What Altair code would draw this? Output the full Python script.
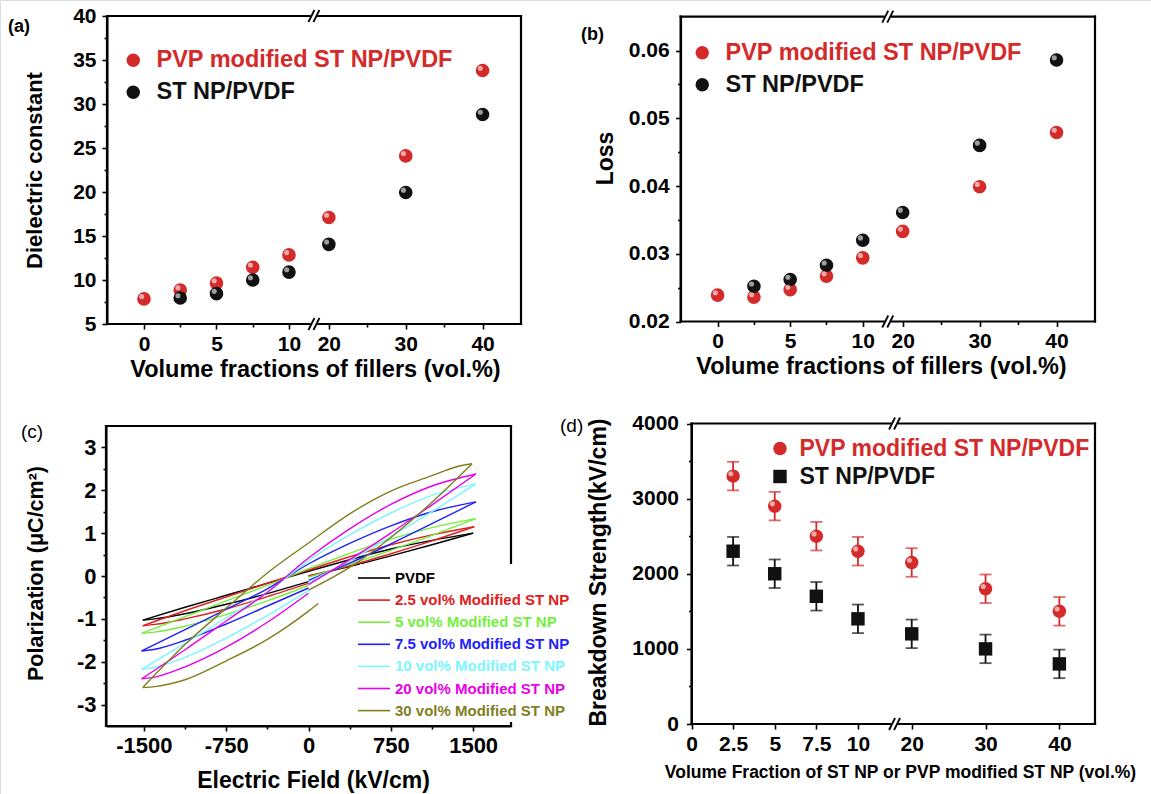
import altair as alt
import pandas as pd

FONT = "Liberation Sans"
W, H = 1151, 794
RED = "#d42a2a"
BLK = "#111111"

# ---------------- panels (a) and (b) ----------------
ab_series = ["PVP modified ST NP/PVDF", "ST NP/PVDF"]
ab_colors = [RED, BLK]
vol_red = [0, 2.5, 5, 7.5, 10, 20, 30, 40]
vol_black = [2.5, 5, 7.5, 10, 20, 30, 40]
eps_red = [7.85, 8.85, 9.65, 11.45, 12.85, 17.1, 24.1, 33.8]
eps_black = [7.95, 8.45, 10.0, 10.9, 14.05, 19.95, 28.8]
loss_red = [0.0239, 0.0236, 0.0247, 0.0267, 0.0294, 0.0333, 0.0399, 0.0479]
loss_black = [0.0252, 0.0262, 0.0283, 0.0320, 0.0361, 0.0460, 0.0586]
ab_x_ticks = [0, 5, 10, 20, 30, 40]
ab_x_minor = [2.5, 7.5, 25, 35]
a_y_ticks = [5, 10, 15, 20, 25, 30, 35, 40]
a_y_minor = [7.5, 12.5, 17.5, 22.5, 27.5, 32.5, 37.5]
b_y_ticks = [0.02, 0.03, 0.04, 0.05, 0.06]
b_y_minor = [0.025, 0.035, 0.045, 0.055]

# ---------------- panel (c): P-E loops ----------------
c_series = ["PVDF", "2.5 vol%  Modified ST NP", "5 vol% Modified ST NP",
            "7.5 vol% Modified ST NP", "10 vol%  Modified ST NP",
            "20 vol% Modified ST NP", "30 vol%  Modified ST NP"]
c_colors = ["#000000", "#e02020", "#74f03c", "#2020ff", "#7cf6ff", "#e800e8", "#7f7f1f"]
E_pvdf = [0, 375, 750, 1125, 1500, 1125, 750, 375, 0, -375, -750, -1125, -1510, -1400, -1125, -750, -375, 0]
P_pvdf = [0.0, 0.22, 0.47, 0.73, 1.0, 0.83, 0.63, 0.38, 0.11, -0.17, -0.45, -0.73, -1.03, -1.0, -0.88, -0.66, -0.41, -0.13]
E_25 = [0, 375, 750, 1125, 1510, 1125, 750, 375, 0, -375, -750, -1125, -1510, -1400, -1125, -750, -375, 0]
P_25 = [0.0, 0.24, 0.52, 0.82, 1.15, 0.96, 0.73, 0.45, 0.14, -0.17, -0.49, -0.81, -1.16, -1.13, -1.0, -0.77, -0.48, -0.17]
E_5 = [0, 375, 750, 1125, 1525, 1125, 750, 375, 0, -375, -750, -1125, -1520, -1400, -1125, -750, -375, 0]
P_5 = [-0.03, 0.27, 0.6, 0.95, 1.34, 1.13, 0.86, 0.53, 0.17, -0.22, -0.58, -0.95, -1.34, -1.31, -1.17, -0.9, -0.58, -0.22]
E_75 = [0, 375, 750, 1125, 1525, 1125, 750, 375, 0, -375, -750, -1125, -1520, -1400, -1125, -750, -375, 0]
P_75 = [-0.1, 0.3, 0.75, 1.22, 1.73, 1.5, 1.17, 0.76, 0.28, -0.3, -0.78, -1.25, -1.75, -1.71, -1.5, -1.12, -0.7, -0.28]
E_10 = [0, 375, 750, 1125, 1525, 1125, 750, 375, 0, -375, -750, -1125, -1520, -1400, -1125, -750, -375, 0]
P_10 = [-0.15, 0.36, 0.92, 1.5, 2.15, 1.88, 1.47, 0.96, 0.36, -0.38, -0.98, -1.57, -2.18, -2.13, -1.9, -1.45, -0.92, -0.34]
E_20 = [0, 375, 750, 1125, 1525, 1125, 750, 375, 0, -375, -750, -1125, -1520, -1400, -1125, -750, -375, 0]
P_20 = [-0.2, 0.38, 1.0, 1.66, 2.38, 2.1, 1.67, 1.1, 0.42, -0.38, -1.05, -1.72, -2.4, -2.36, -2.12, -1.66, -1.08, -0.4]
E_30 = [0, 375, 750, 1125, 1490, 1350, 1125, 750, 375, 0, -375, -750, -1125, -1510, -1400, -1125, -750, -375, 0, 90]
P_30 = [-0.33, 0.2, 0.9, 1.72, 2.62, 2.55, 2.34, 1.98, 1.45, 0.77, 0.07, -0.75, -1.6, -2.6, -2.58, -2.42, -1.98, -1.48, -0.82, -0.64]
c_E = [E_pvdf, E_25, E_5, E_75, E_10, E_20, E_30]
c_P = [P_pvdf, P_25, P_5, P_75, P_10, P_20, P_30]
c_x_ticks = [-1500, -750, 0, 750, 1500]
c_x_minor = [-1125, -375, 375, 1125]
c_y_ticks = [-3, -2, -1, 0, 1, 2, 3]
c_y_minor = [-2.5, -1.5, -0.5, 0.5, 1.5, 2.5]

# ---------------- panel (d): breakdown strength ----------------
d_series = ["PVP modified ST NP/PVDF", "ST NP/PVDF"]
d_vol = [2.5, 5, 7.5, 10, 20, 30, 40]
d_red = [3300, 2900, 2500, 2300, 2150, 1800, 1500]
d_red_err = [190, 190, 190, 190, 190, 190, 190]
d_black = [2300, 2000, 1700, 1400, 1200, 1000, 800]
d_black_err = [190, 190, 190, 190, 190, 190, 190]
d_x_ticks = [0, 2.5, 5, 7.5, 10, 20, 30, 40]
d_y_ticks = [0, 1000, 2000, 3000, 4000]
d_y_minor = [500, 1500, 2500, 3500]

# broken-axis layout (position units)
AB_S20, AB_K, AB_BRK = 12.75, 0.53, 11.72
D_S20, D_K, D_BRK = 13.23, 0.4435, 12.2


def brk(v, s20, k):
    return v if v <= 10 else s20 + (v - 20) * k


def brk_label(s20, k, fmt):
    return (f"datum.value <= 10.5 ? format(datum.value, '{fmt}') : "
            f"format(round(20 + (datum.value - {s20}) / {k}), 'd')")


def color_expr(names, colors):
    n = ",".join("'" + s + "'" for s in names)
    c = ",".join("'" + s + "'" for s in colors)
    return f"[{c}][indexof([{n}], datum.label)]"


def axis(orient, pixel, **kw):
    off = {"left": -pixel, "top": -pixel, "right": pixel - W, "bottom": pixel - H}[orient]
    base = dict(orient=orient, offset=off, grid=False, domainColor="black", domainWidth=2,
                tickColor="black", tickWidth=1.6, tickSize=5, labelFont=FONT,
                labelFontWeight="bold", labelColor="black", labelFontSize=21, labelPadding=3,
                labelOverlap=False, labelFlush=False, zindex=0, titleFont=FONT,
                titleFontWeight="bold", titleColor="black", titleFontSize=22,
                titleBaseline="middle", title="")
    base.update(kw)
    return alt.Axis(**base)


def axis_layers(df, xf, yf, xs, ys, box, xmain, ymain, xminor=None, yminor=None):
    left, top, right, bottom = box
    b = alt.Chart(df).mark_point(opacity=0)
    lays = [b.encode(x=alt.X(xf, scale=xs, axis=xmain), y=alt.Y(yf, scale=ys, axis=ymain))]
    xm = axis("bottom", bottom, values=xminor, labels=False, domain=False, tickSize=3) if xminor else None
    ym = axis("left", left, values=yminor, labels=False, domain=False, tickSize=3) if yminor else None
    lays.append(b.encode(x=alt.X(xf, scale=xs, axis=xm), y=alt.Y(yf, scale=ys, axis=ym)))
    return lays


_dummy = pd.DataFrame({"k": [0]})


def slash(x1, y1, x2, y2, width=1.8):
    return alt.Chart(_dummy).mark_rule(color="black", strokeWidth=width).encode(
        x=alt.value(x1), x2=alt.value(x2), y=alt.value(y1), y2=alt.value(y2))


def bar(x1, y1, x2, y2, t=1.1):
    """Axis-aligned frame edge as a thin filled rectangle (pixels)."""
    return alt.Chart(_dummy).mark_rect(color="black", strokeWidth=0).encode(
        x=alt.value(min(x1, x2) - t), x2=alt.value(max(x1, x2) + t),
        y=alt.value(min(y1, y2) - t), y2=alt.value(max(y1, y2) + t))


def frame_px(box, xdom=None, bpos=None, gap=4.2):
    """Plot frame (chart furniture) in pixels, split at the axis break with '//' marks."""
    left, top, right, bottom = box
    lays = [bar(left, top, left, bottom), bar(right, top, right, bottom)]
    if bpos is None:
        lays += [bar(left, top, right, top), bar(left, bottom, right, bottom)]
    else:
        bx = left + (bpos - xdom[0]) / (xdom[1] - xdom[0]) * (right - left)
        for yy in (top, bottom):
            lays += [bar(left, yy, bx - gap, yy), bar(bx + gap, yy, right, yy)]
            for dx in (-5.5, -0.5):
                lays.append(slash(bx + dx, yy + 6, bx + dx + 6, yy - 6))
    return lays


def two_legend(x, y, fs, size, offset, rowpad, names):
    return alt.Legend(orient="none", legendX=x, legendY=y, title=None, labelFont=FONT,
                      labelFontSize=fs, labelFontWeight="bold",
                      labelColor=alt.ExprRef(color_expr(names, ab_colors)),
                      symbolSize=size, symbolStrokeWidth=0, labelOffset=offset,
                      rowPadding=rowpad, padding=0, labelLimit=600)


AB_XDOM = [-2.55, 26.0]
frames = []


def sphere_panel(vals_red, vals_black, ys, box, yaxis_main, y_minor, legend, title_cx):
    left, top, right, bottom = box
    df = pd.DataFrame({
        "series": [ab_series[0]] * len(vol_red) + [ab_series[1]] * len(vol_black),
        "vol": vol_red + vol_black,
        "val": vals_red + vals_black})
    df["pos"] = [brk(v, AB_S20, AB_K) for v in df["vol"]]
    xs = alt.Scale(domain=AB_XDOM, range=[left, right], nice=False, zero=False)
    xmain = axis("bottom", bottom, values=[brk(v, AB_S20, AB_K) for v in ab_x_ticks],
                 labelExpr=brk_label(AB_S20, AB_K, "~g"), domain=False,
                 title="Volume fractions of fillers (vol.%)", titleFontSize=23.5,
                 titleX=title_cx, titleY=45, labelPadding=4)
    xminor = [brk(v, AB_S20, AB_K) for v in ab_x_minor]
    base = alt.Chart(df)
    pts = base.mark_circle(size=185, opacity=1).encode(
        x=alt.X("pos:Q", scale=xs, axis=None), y=alt.Y("val:Q", scale=ys, axis=None),
        color=alt.Color("series:N", scale=alt.Scale(domain=ab_series, range=ab_colors), legend=legend))
    shine = base.mark_circle(size=26, color="white", opacity=0.6, xOffset=-2.3, yOffset=-2.3).encode(
        x=alt.X("pos:Q", scale=xs, axis=None), y=alt.Y("val:Q", scale=ys, axis=None))
    lays = axis_layers(df, "pos:Q", "val:Q", xs, ys, box, xmain, yaxis_main, xminor, y_minor)
    lays += [pts, shine]
    frames.extend(frame_px(box, AB_XDOM, AB_BRK))
    return alt.layer(*lays).resolve_axis(x="independent", y="independent")


# ---- (a)
box_a = (107, 16, 521, 324)
ys_a = alt.Scale(domain=[5, 40], range=[324, 16], nice=False, zero=False)
ya = axis("left", 107, values=a_y_ticks, labelPadding=6, title="Dielectric constant",
          titleX=34 - 107, titleY=170)
panel_a = sphere_panel(eps_red, eps_black, ys_a, box_a, ya, a_y_minor,
                       two_legend(121.5, 48.5, 23.5, 180, 11.5, 7, ab_series), 315)

# ---- (b)
box_b = (680.6, 16.7, 1095, 321.5)
ys_b = alt.Scale(domain=[0.02, 0.065], range=[321.5, 16.7], nice=False, zero=False)
yb = axis("left", 680.6, values=b_y_ticks, format=".2f", labelPadding=6.5, title="Loss",
          titleFontSize=23, titleX=605 - 680.6, titleY=158)
panel_b = sphere_panel(loss_red, loss_black, ys_b, box_b, yb, b_y_minor,
                       two_legend(690.5, 41, 23.5, 180, 11.5, 7, ab_series), 881)

# ---- (c)
rows = []
for s, E, P in zip(c_series, c_E, c_P):
    br = 0
    for i in range(len(E)):
        if i >= 2 and (E[i] - E[i - 1]) * (E[i - 1] - E[i - 2]) < 0:
            br += 1
            rows.append(dict(series=s, branch=f"{s}-{br}", E=E[i - 1], P=P[i - 1], idx=i - 0.5))
        rows.append(dict(series=s, branch=f"{s}-{br}", E=E[i], P=P[i], idx=i))
df_c = pd.DataFrame(rows)
box_c = (106, 426, 511, 726)
xs_c = alt.Scale(domain=[-1845, 1845], range=[106, 511], nice=False, zero=False)
ys_c = alt.Scale(domain=[-3.5, 3.5], range=[726, 426], nice=False, zero=False)
neg_fmt = "datum.value < 0 ? '-' + format(-datum.value, 'd') : format(datum.value, 'd')"
xc = axis("bottom", 726, values=c_x_ticks, labelExpr=neg_fmt, labelFontSize=22,
          title="Electric Field (kV/cm)", titleFontSize=23, titleX=313, titleY=54, labelPadding=4)
yc = axis("left", 106, values=c_y_ticks, labelExpr=neg_fmt, labelFontSize=22, labelPadding=5,
          title="Polarization (\u03bcC/cm\u00b2)", titleFontSize=21.5, titleX=36 - 106, titleY=573)
leg_c = alt.Legend(orient="none", legendX=360, legendY=564, title=None, labelFont=FONT,
                   labelFontSize=15, labelFontWeight="bold",
                   labelColor=alt.ExprRef(color_expr(c_series, c_colors)),
                   symbolType="M-1.6,0H1.6", symbolSize=400, symbolStrokeWidth=1.6,
                   labelOffset=10, rowPadding=3.1, padding=3, fillColor="white", labelLimit=600)
lines_c = alt.Chart(df_c).mark_line(strokeWidth=1.4, interpolate="monotone").encode(
    x=alt.X("E:Q", scale=xs_c, axis=None), y=alt.Y("P:Q", scale=ys_c, axis=None),
    color=alt.Color("series:N", scale=alt.Scale(domain=c_series, range=c_colors), legend=leg_c),
    detail="branch:N", order="idx:Q")
panel_c = alt.layer(*(axis_layers(df_c, "E:Q", "P:Q", xs_c, ys_c, box_c, xc, yc, c_x_minor, c_y_minor)
                      + [lines_c])).resolve_axis(x="independent", y="independent")
frames.extend(frame_px(box_c))

# ---- (d)
df_d = pd.DataFrame({
    "series": [d_series[0]] * len(d_vol) + [d_series[1]] * len(d_vol),
    "vol": d_vol + d_vol,
    "val": d_red + d_black,
    "err": d_red_err + d_black_err})
df_d["pos"] = [brk(v, D_S20, D_K) for v in df_d["vol"]]
df_d["lo"] = df_d["val"] - df_d["err"]
df_d["hi"] = df_d["val"] + df_d["err"]
box_d = (691.5, 423.5, 1095, 724)
xdom_d = [0, 24.24]
xs_d = alt.Scale(domain=xdom_d, range=[691.5, 1095], nice=False, zero=False)
ys_d = alt.Scale(domain=[0, 4000], range=[724, 423.5], nice=False, zero=False)
xd = axis("bottom", 724, values=[brk(v, D_S20, D_K) for v in d_x_ticks],
          labelExpr=brk_label(D_S20, D_K, ".1~f"), labelPadding=4, domain=False,
          title="Volume Fraction of ST NP or PVP modified ST NP  (vol.%)",
          titleFontSize=17.5, titleX=900, titleY=48)
yd = axis("left", 691.5, values=d_y_ticks, format="d", labelPadding=8,
          title="Breakdown Strength(kV/cm)", titleFontSize=23, titleX=598 - 691.5, titleY=572)
leg_d = alt.Legend(orient="none", legendX=768.5, legendY=437, title=None, labelFont=FONT,
                   labelFontSize=23, labelFontWeight="bold",
                   labelColor=alt.ExprRef(color_expr(d_series, ab_colors)),
                   symbolSize=180, symbolStrokeWidth=0, labelOffset=8, rowPadding=4,
                   padding=0, labelLimit=600)
err_lays = []
for s, col in zip(d_series, ab_colors):
    sub = df_d[df_d["series"] == s]
    cb = alt.Chart(sub)
    err_lays.append(cb.mark_rule(color=col, strokeWidth=1.8).encode(
        x=alt.X("pos:Q", scale=xs_d, axis=None), y=alt.Y("lo:Q", scale=ys_d, axis=None), y2="hi:Q"))
    for f in ["lo", "hi"]:
        err_lays.append(cb.mark_tick(orient="horizontal", size=12, thickness=1.8, color=col).encode(
            x=alt.X("pos:Q", scale=xs_d, axis=None), y=alt.Y(f + ":Q", scale=ys_d, axis=None)))
pts_d = alt.Chart(df_d).mark_point(filled=True, opacity=1, size=180).encode(
    x=alt.X("pos:Q", scale=xs_d, axis=None), y=alt.Y("val:Q", scale=ys_d, axis=None),
    color=alt.Color("series:N", scale=alt.Scale(domain=d_series, range=ab_colors), legend=leg_d),
    shape=alt.Shape("series:N", scale=alt.Scale(domain=d_series, range=["circle", "square"]), legend=leg_d))
shine_d = alt.Chart(df_d[df_d["series"] == d_series[0]]).mark_circle(
    size=26, color="white", opacity=0.6, xOffset=-2.3, yOffset=-2.3).encode(
    x=alt.X("pos:Q", scale=xs_d, axis=None), y=alt.Y("val:Q", scale=ys_d, axis=None))
panel_d = alt.layer(*(axis_layers(df_d, "pos:Q", "val:Q", xs_d, ys_d, box_d, xd, yd, None, d_y_minor)
                      + err_lays + [pts_d, shine_d])
                    ).resolve_axis(x="independent", y="independent")
frames.extend(frame_px(box_d, xdom_d, D_BRK))


# ---- panel letters
def letter(t, x, y, bold, fs):
    return alt.Chart(pd.DataFrame({"t": [t]})).mark_text(
        text=t, font=FONT, fontSize=fs, fontWeight="bold" if bold else "normal",
        align="left", baseline="middle", color="black").encode(x=alt.value(x), y=alt.value(y))


letters = [letter("(a)", 8, 27, True, 18), letter("(b)", 581, 35, True, 18),
           letter("(c)", 21, 432, False, 19), letter("(d)", 560, 426, False, 19)]

# frames are drawn last, on top of the panels
chart = alt.layer(panel_a, panel_b, panel_c, panel_d, *letters, *frames).properties(
    width=W, height=H, autosize=alt.AutoSizeParams(type="none"), padding=0
).resolve_scale(
    x="independent", y="independent", color="independent", shape="independent"
).resolve_axis(x="independent", y="independent").resolve_legend(
    color="independent", shape="independent"
).configure_view(strokeOpacity=0).configure(font=FONT, background="white")

chart.save("out.html", embed_options={"renderer": "svg", "actions": False})
